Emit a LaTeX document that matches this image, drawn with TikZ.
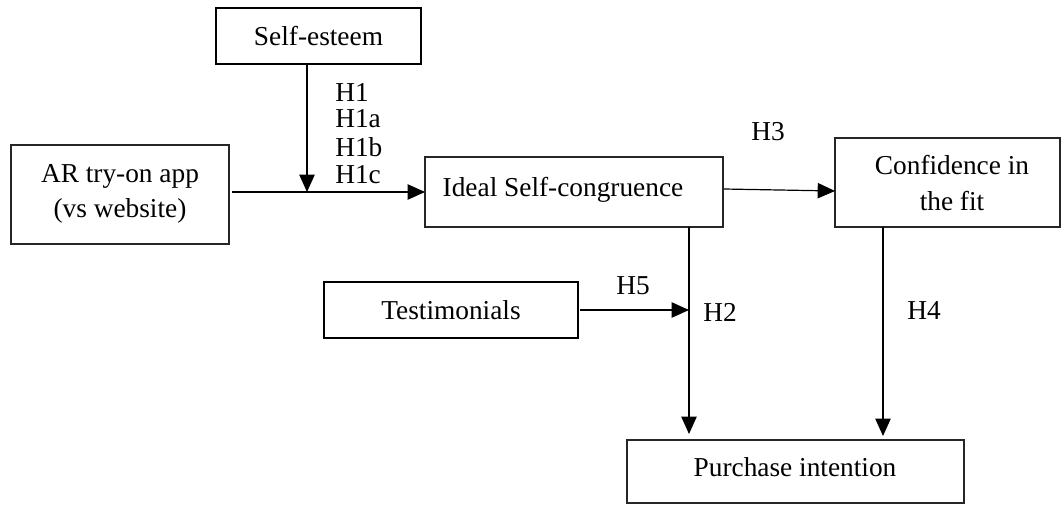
\documentclass[tikz,border=0pt]{standalone}
\usepackage{fontspec}
\setmainfont{Liberation Serif}
\usetikzlibrary{arrows.meta}
\begin{document}
\begin{tikzpicture}[x=0.75pt,y=-0.75pt,
  every node/.style={font=\fontsize{20.5}{24}\selectfont, inner sep=0pt},
  box/.style={draw=black!85, line width=0.9pt},
  thickbox/.style={draw=black, line width=1.6pt},
  arr/.style={draw=black, line width=0.9pt, -{Triangle[length=13pt,width=11.5pt]}}]
\useasboundingbox (0,0) rectangle (1064,504);
% boxes
\draw[thickbox] (216,8) rectangle (421,64);
\node (se) at (318.5,36) {Self-esteem};
\draw[box] (11,145) rectangle (229,244);
\node[align=center] (ar) at (120,194) {AR try-on app\\[2pt](vs website)};
\draw[box] (425,157) rectangle (723,227);
\node (isc) at (563,190) {Ideal Self-congruence};
\draw[box] (835,138) rectangle (1060,227);
\node[align=center] (conf) at (952,183) {Confidence in\\[3pt]the fit};
\draw[thickbox] (324,282) rectangle (578,338);
\node (test) at (451,310) {Testimonials};
\draw[box] (627,440) rectangle (964,503);
\node (pi) at (795,467) {Purchase intention};
% coordinates
\coordinate (seb) at (307,64);
\coordinate (mid) at (307,192);
\coordinate (arr0) at (232,192);
\coordinate (iscl) at (425,192);
\coordinate (iscr) at (724,189);
\coordinate (confl) at (835,191);
\coordinate (iscb) at (689,227);
\coordinate (pi1) at (689,434);
\coordinate (confb) at (883,227);
\coordinate (pi2) at (883,436);
\coordinate (testr) at (580,310);
\coordinate (h5end) at (689,310);
% arrows
\draw[arr] (seb) -- (mid);
\draw[arr] (arr0) -- (iscl);
\draw[arr] (iscr) -- (confl);
\draw[arr] (iscb) -- (pi1);
\draw[arr] (confb) -- (pi2);
\draw[arr] (testr) -- (h5end);
% labels
\node[anchor=west] (h1) at (335,92) {H1};
\node[anchor=west] (h1a) at (335,119) {H1a};
\node[anchor=west] (h1b) at (335,147) {H1b};
\node[anchor=west] (h1c) at (335,175) {H1c};
\node (h3) at (768,132) {H3};
\node (h5) at (633,286) {H5};
\node[anchor=west] (h2) at (703,312) {H2};
\node[anchor=west] (h4) at (907,310) {H4};
\end{tikzpicture}
\end{document}
